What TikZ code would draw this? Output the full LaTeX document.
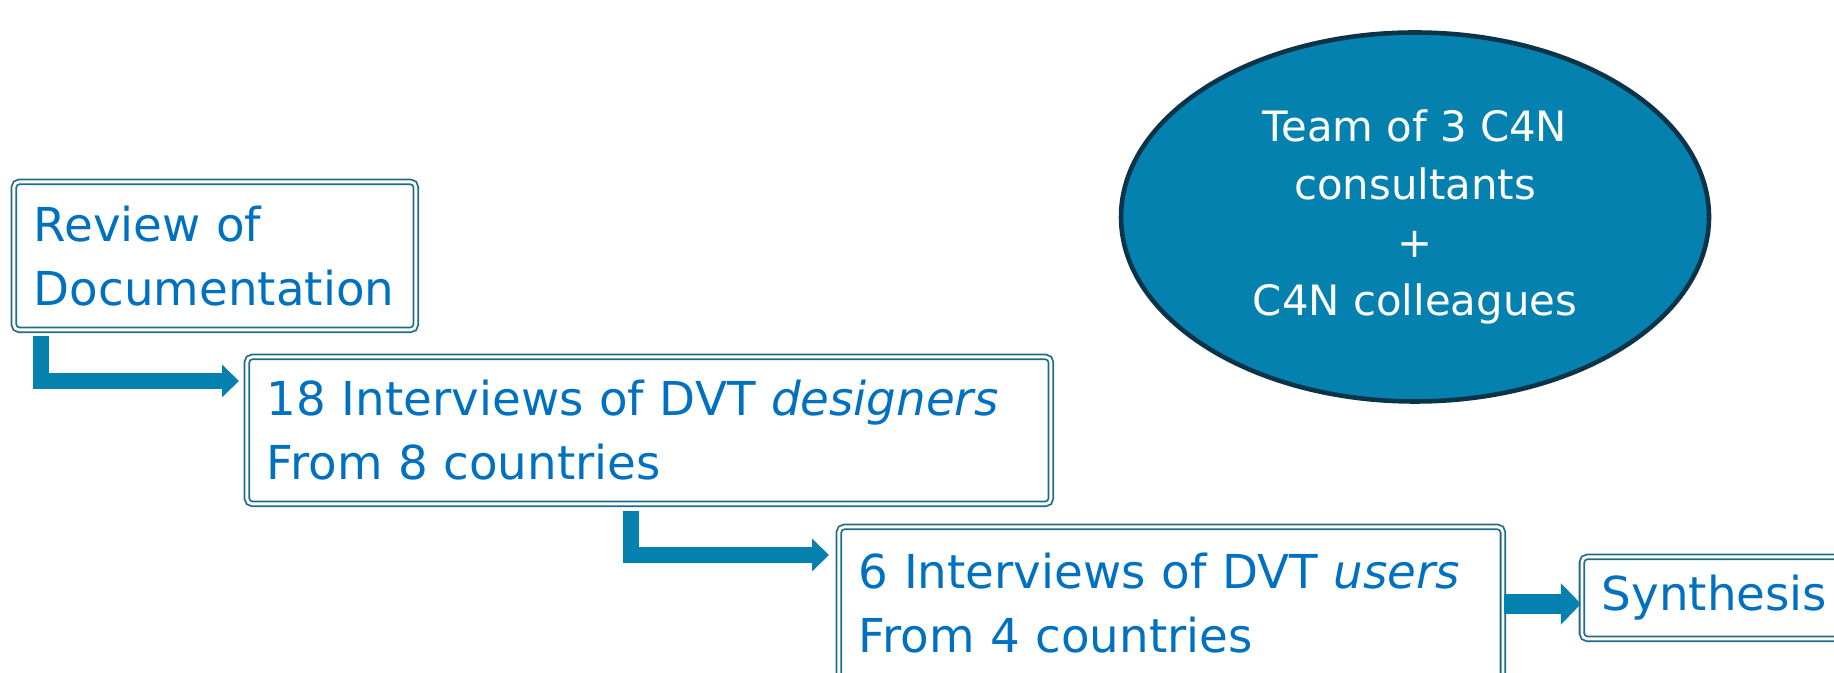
\documentclass[tikz,border=0pt]{standalone}
\usepackage{fontspec}
\setmainfont{DejaVu Sans}
\usepackage{tikz}
\usetikzlibrary{arrows.meta,calc,shapes.geometric}
\usetikzlibrary{positioning}

\definecolor{textblue}{RGB}{0,112,192}
\definecolor{flowblue}{RGB}{4,129,174}
\definecolor{boxline}{RGB}{31,107,135}
\definecolor{ringline}{RGB}{11,52,72}

\tikzset{
    stage/.style = {draw=boxline, line width=0.5pt, double=white, double distance=0.8pt,
        rounded corners=1.5pt, anchor=north west, inner xsep=0.2cm, inner ysep=0pt,
        align=left, text=textblue, font=\fontsize{13.3pt}{18.1pt}\selectfont},
    flow/.style = {draw=flowblue, line width=4.55pt, line join=miter,
        -{Triangle[width=9pt,length=4.8pt]}},
}

\begin{document}
\begin{tikzpicture}
        \useasboundingbox (0,0) rectangle (18.34,6.73);

        \node [stage, text width=3.62cm, minimum height=1.48cm] (review) at (0.13,4.92)
            {Review of\\Documentation};
        \node [stage, text width=7.64cm, minimum height=1.47cm] (design) at (2.46,3.17)
            {18 Interviews of DVT \textit{designers}\\From 8 countries};
        \node [stage, text width=6.24cm, minimum height=1.52cm] (users) at (8.38,1.47)
            {6 Interviews of DVT \textit{users}\\From 4 countries};
        \node [stage, text width=3.20cm, minimum height=0.82cm] (synth) at (15.81,1.17)
            {Synthesis};

        \node [ellipse, fill=flowblue, draw=ringline, line width=1.3pt, inner sep=0pt,
            minimum width=5.88cm, minimum height=3.69cm, align=center, text=white,
            font=\fontsize{11.9pt}{16.5pt}\selectfont] (team) at (14.15,4.56)
            {Team of 3 C4N\\consultants\\+\\C4N colleagues};

        \draw[flow] ([xshift=0.28cm,yshift=-0.05cm]review.south west)
            |- ([xshift=-0.07cm,yshift=-0.25cm]design.north west);
        \draw[flow] ([xshift=3.85cm,yshift=-0.06cm]design.south west)
            |- ([xshift=-0.09cm,yshift=-0.29cm]users.north west);
        \coordinate (out) at ([yshift=-0.01cm]users.east);
        \draw[flow, line width=5.7pt, -{Triangle[width=11.4pt,length=5.7pt]}]
            (out) -- (out -| synth.west);
\end{tikzpicture}
\end{document}
